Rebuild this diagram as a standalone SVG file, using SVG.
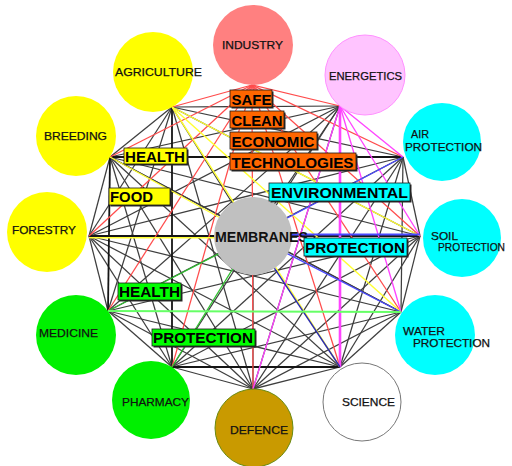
<svg xmlns="http://www.w3.org/2000/svg" width="512" height="466" viewBox="0 0 512 466">
<style>
.g{stroke:#3e3e3e;stroke-width:1.25}
.k{stroke:#151515;stroke-width:1.8}
.r{stroke:#ff4c4c;stroke-width:1.25}
.m{stroke:#ff44ff;stroke-width:1.35}
.y{stroke:#ffff33;stroke-width:1.4}
.b{stroke:#4a4aff;stroke-width:1.4}
.db{stroke:#2a2ab0;stroke-width:1.4}
.gr{stroke:#30c030;stroke-width:1.3}
.n{font-family:"Liberation Sans",Arial,sans-serif;font-size:11.5px;fill:#111;stroke:#111;stroke-width:0.25}
.mt{font-family:"Liberation Sans",Arial,sans-serif;font-size:14px;font-weight:bold;fill:#111}
.lt{font-family:"Liberation Sans",Arial,sans-serif;font-size:15px;font-weight:bold;fill:#000}
.sh{fill:#2a2a2a}
.bo{stroke:#1a1a1a;stroke-width:0.8}
</style>
<rect width="512" height="466" fill="#ffffff"/>
<g id="connectors" fill="none">
<line class="g" x1="340" y1="106" x2="253" y2="389"/>
<line class="g" x1="340" y1="106" x2="172" y2="367"/>
<line class="g" x1="340" y1="106" x2="108" y2="311"/>
<line class="g" x1="340" y1="106" x2="89" y2="236"/>
<line class="g" x1="340" y1="106" x2="110" y2="157"/>
<line class="g" x1="340" y1="106" x2="172" y2="107"/>
<line class="g" x1="340" y1="106" x2="253" y2="236"/>
<line class="g" x1="403" y1="157" x2="420" y2="236"/>
<line class="g" x1="403" y1="157" x2="401" y2="312"/>
<line class="g" x1="403" y1="157" x2="340" y2="367"/>
<line class="g" x1="403" y1="157" x2="253" y2="389"/>
<line class="g" x1="403" y1="157" x2="172" y2="367"/>
<line class="g" x1="403" y1="157" x2="108" y2="311"/>
<line class="g" x1="403" y1="157" x2="89" y2="236"/>
<line class="g" x1="403" y1="157" x2="172" y2="107"/>
<line class="g" x1="420" y1="236" x2="401" y2="312"/>
<line class="g" x1="420" y1="236" x2="340" y2="367"/>
<line class="g" x1="420" y1="236" x2="253" y2="389"/>
<line class="g" x1="420" y1="236" x2="172" y2="367"/>
<line class="g" x1="420" y1="236" x2="108" y2="311"/>
<line class="g" x1="420" y1="236" x2="110" y2="157"/>
<line class="g" x1="420" y1="236" x2="172" y2="107"/>
<line class="g" x1="401" y1="312" x2="340" y2="367"/>
<line class="g" x1="401" y1="312" x2="253" y2="389"/>
<line class="g" x1="401" y1="312" x2="172" y2="367"/>
<line class="g" x1="401" y1="312" x2="89" y2="236"/>
<line class="g" x1="401" y1="312" x2="110" y2="157"/>
<line class="g" x1="340" y1="367" x2="253" y2="389"/>
<line class="g" x1="340" y1="367" x2="108" y2="311"/>
<line class="g" x1="340" y1="367" x2="89" y2="236"/>
<line class="g" x1="340" y1="367" x2="110" y2="157"/>
<line class="g" x1="253" y1="389" x2="172" y2="367"/>
<line class="g" x1="253" y1="389" x2="108" y2="311"/>
<line class="g" x1="253" y1="389" x2="89" y2="236"/>
<line class="g" x1="253" y1="389" x2="110" y2="157"/>
<line class="g" x1="253" y1="389" x2="172" y2="107"/>
<line class="g" x1="253" y1="389" x2="253" y2="236"/>
<line class="g" x1="172" y1="367" x2="108" y2="311"/>
<line class="g" x1="172" y1="367" x2="89" y2="236"/>
<line class="g" x1="172" y1="367" x2="110" y2="157"/>
<line class="g" x1="108" y1="311" x2="89" y2="236"/>
<line class="g" x1="108" y1="311" x2="172" y2="107"/>
<line class="g" x1="89" y1="236" x2="110" y2="157"/>
<line class="g" x1="89" y1="236" x2="172" y2="107"/>
<line class="g" x1="110" y1="157" x2="172" y2="107"/>
<line class="g" x1="172" y1="107" x2="253" y2="236"/>
<line class="g" x1="110" y1="157" x2="401" y2="312"/>
<line class="k" x1="110" y1="157" x2="403" y2="157"/>
<line class="k" x1="172" y1="107" x2="172" y2="367"/>
<line class="k" x1="110" y1="157" x2="108" y2="311"/>
<line class="k" x1="172" y1="367" x2="340" y2="367"/>
<line class="k" x1="89" y1="236" x2="420" y2="236"/>
<line class="r" x1="252" y1="85" x2="340" y2="106"/>
<line class="r" x1="252" y1="85" x2="403" y2="157"/>
<line class="r" x1="252" y1="85" x2="420" y2="236"/>
<line class="r" x1="252" y1="85" x2="401" y2="312"/>
<line class="r" x1="252" y1="85" x2="340" y2="367"/>
<line class="r" x1="252" y1="85" x2="253" y2="389"/>
<line class="r" x1="252" y1="85" x2="172" y2="367"/>
<line class="r" x1="252" y1="85" x2="108" y2="311"/>
<line class="r" x1="252" y1="85" x2="89" y2="236"/>
<line class="r" x1="252" y1="85" x2="110" y2="157"/>
<line class="r" x1="252" y1="85" x2="172" y2="107"/>
<line class="y" x1="172" y1="107" x2="340" y2="367"/>
<line class="y" x1="172" y1="107" x2="401" y2="312"/>
<line class="y" x1="172" y1="107" x2="420" y2="236"/>
<line class="y" x1="110" y1="157" x2="253" y2="236"/>
<line class="y" x1="89" y1="237.8" x2="253" y2="237.8"/>
<line class="m" x1="340" y1="106" x2="403" y2="157"/>
<line class="m" x1="340" y1="106" x2="420" y2="236"/>
<line class="m" x1="340" y1="106" x2="401" y2="312"/>
<line class="m" x1="340" y1="106" x2="253" y2="389"/>
<line class="m" x1="340" y1="106" x2="340" y2="367" style="stroke-width:2.6"/>
<line class="b" x1="403" y1="157" x2="253" y2="236"/>
<line class="b" x1="420" y1="234.5" x2="253" y2="234.5" style="stroke-width:2"/>
<line class="b" x1="401" y1="312" x2="253" y2="236"/>
<line class="db" x1="340" y1="367" x2="253" y2="236"/>
<line class="gr" x1="108" y1="311" x2="253" y2="236"/>
<line class="gr" x1="172" y1="367" x2="253" y2="236"/>
<line x1="108" y1="311" x2="401" y2="312" stroke="#66ff66" stroke-width="2"/>
</g>
<g id="industry"><circle cx="253" cy="45" r="40" fill="#ff8080"/><text class="n" x="222" y="49" textLength="61" lengthAdjust="spacingAndGlyphs">INDUSTRY</text></g>
<g id="energetics"><circle cx="365" cy="75" r="40" fill="#ffc4ff" stroke="#ff90ff" stroke-width="1"/><text class="n" x="329" y="80" textLength="73" lengthAdjust="spacingAndGlyphs">ENERGETICS</text></g>
<g id="air-protection"><circle cx="442" cy="142" r="39" fill="#00ffff"/><text class="n" x="411" y="138" textLength="18" lengthAdjust="spacingAndGlyphs">AIR</text><text class="n" x="405" y="151" textLength="77" lengthAdjust="spacingAndGlyphs">PROTECTION</text></g>
<g id="soil-protection"><circle cx="462" cy="238" r="39" fill="#00ffff"/><text class="n" x="431" y="240" textLength="27" lengthAdjust="spacingAndGlyphs">SOIL</text><text class="n" x="438" y="251" textLength="67" lengthAdjust="spacingAndGlyphs">PROTECTION</text></g>
<g id="water-protection"><circle cx="435" cy="335" r="40" fill="#00ffff"/><text class="n" x="403" y="335" textLength="42" lengthAdjust="spacingAndGlyphs">WATER</text><text class="n" x="413" y="347" textLength="77" lengthAdjust="spacingAndGlyphs">PROTECTION</text></g>
<g id="science"><circle cx="362" cy="402" r="39" fill="#ffffff" stroke="#777777" stroke-width="1"/><text class="n" x="342" y="406" textLength="53" lengthAdjust="spacingAndGlyphs">SCIENCE</text></g>
<g id="defence"><circle cx="254" cy="428" r="39" fill="#c99a00" stroke="#6a8a10" stroke-width="1"/><text class="n" x="230" y="434" textLength="58" lengthAdjust="spacingAndGlyphs">DEFENCE</text></g>
<g id="pharmacy"><circle cx="151" cy="400" r="39" fill="#00f000"/><text class="n" x="122" y="406" textLength="67" lengthAdjust="spacingAndGlyphs">PHARMACY</text></g>
<g id="medicine"><circle cx="76" cy="335" r="40" fill="#00f000"/><text class="n" x="39" y="337" textLength="59" lengthAdjust="spacingAndGlyphs">MEDICINE</text></g>
<g id="forestry"><circle cx="47" cy="232" r="40" fill="#ffff00"/><text class="n" x="12" y="234" textLength="64" lengthAdjust="spacingAndGlyphs">FORESTRY</text></g>
<g id="breeding"><circle cx="76" cy="136" r="40" fill="#ffff00"/><text class="n" x="44" y="140" textLength="63" lengthAdjust="spacingAndGlyphs">BREEDING</text></g>
<g id="agriculture"><circle cx="153" cy="72" r="40" fill="#ffff00"/><text class="n" x="115" y="76" textLength="87" lengthAdjust="spacingAndGlyphs">AGRICULTURE</text></g>
<g id="membranes"><circle cx="253" cy="236" r="39" fill="#c0c0c0"/><text class="mt" x="215" y="242" textLength="93" lengthAdjust="spacingAndGlyphs">MEMBRANES</text></g>
<g id="label-safe"><rect class="sh" x="231.5" y="91.5" width="42" height="17"/><rect class="bo" x="230" y="90" width="42" height="17" fill="#ff6600"/><text class="lt" x="231.5" y="104.5" textLength="40" lengthAdjust="spacingAndGlyphs">SAFE</text></g>
<g id="label-clean"><rect class="sh" x="231.5" y="112.5" width="54" height="17"/><rect class="bo" x="230" y="111" width="54" height="17" fill="#ff6600"/><text class="lt" x="231.5" y="125.5" textLength="51" lengthAdjust="spacingAndGlyphs">CLEAN</text></g>
<g id="label-economic"><rect class="sh" x="231.5" y="133.5" width="87" height="17"/><rect class="bo" x="230" y="132" width="87" height="17" fill="#ff6600"/><text class="lt" x="231.5" y="146.5" textLength="83" lengthAdjust="spacingAndGlyphs">ECONOMIC</text></g>
<g id="label-technologies"><rect class="sh" x="231.5" y="154.5" width="126" height="17"/><rect class="bo" x="230" y="153" width="126" height="17" fill="#ff6600"/><text class="lt" x="231.5" y="167.5" textLength="122" lengthAdjust="spacingAndGlyphs">TECHNOLOGIES</text></g>
<g id="label-health-food"><rect class="sh" x="125.5" y="149.5" width="63" height="16"/><rect class="bo" x="124" y="148" width="63" height="16" fill="#ffff00"/><text class="lt" x="125" y="162" textLength="60" lengthAdjust="spacingAndGlyphs">HEALTH</text></g>
<g id="label-food"><rect class="sh" x="110.5" y="189.5" width="61" height="17"/><rect class="bo" x="109" y="188" width="61" height="17" fill="#ffff00"/><text class="lt" x="110" y="202" textLength="43" lengthAdjust="spacingAndGlyphs">FOOD</text></g>
<g id="label-environmental"><rect class="sh" x="270.5" y="184.5" width="141" height="18"/><rect class="bo" x="269" y="183" width="141" height="18" fill="#00ffff"/><text class="lt" x="271" y="198" textLength="137" lengthAdjust="spacingAndGlyphs">ENVIRONMENTAL</text></g>
<g id="label-env-protection"><rect class="sh" x="305.5" y="239.5" width="103" height="18"/><rect class="bo" x="304" y="238" width="103" height="18" fill="#00ffff"/><text class="lt" x="305" y="253" textLength="100" lengthAdjust="spacingAndGlyphs">PROTECTION</text></g>
<g id="label-health-med"><rect class="sh" x="119.5" y="284.5" width="63" height="17"/><rect class="bo" x="118" y="283" width="63" height="17" fill="#00ff00"/><text class="lt" x="119" y="297" textLength="61" lengthAdjust="spacingAndGlyphs">HEALTH</text></g>
<g id="label-health-protection"><rect class="sh" x="153.5" y="330.5" width="103" height="17"/><rect class="bo" x="152" y="329" width="103" height="17" fill="#00ff00"/><text class="lt" x="153" y="343" textLength="100" lengthAdjust="spacingAndGlyphs">PROTECTION</text></g>
</svg>
